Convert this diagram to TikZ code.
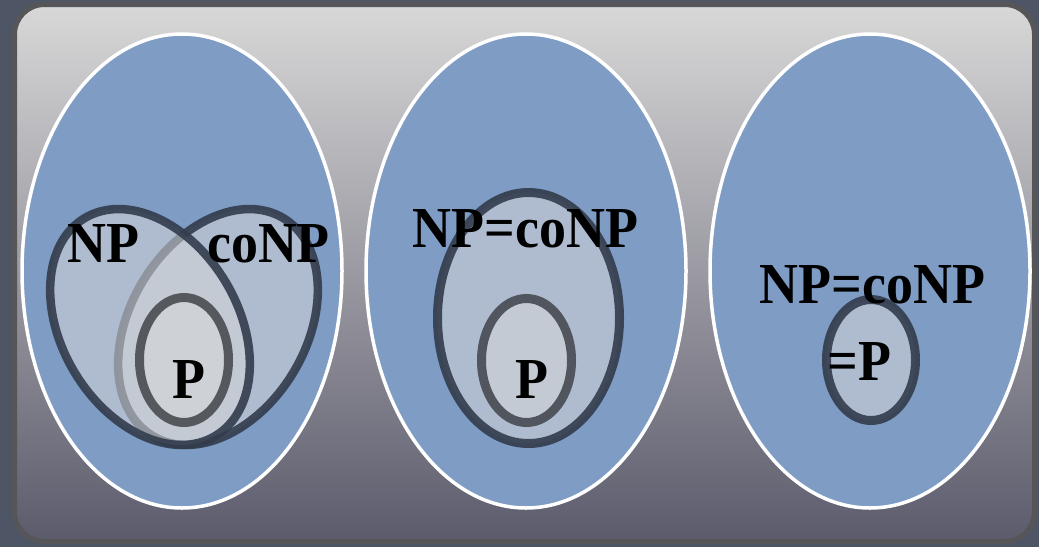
\documentclass[tikz,border=0pt]{standalone}
\usepackage{fontspec}
\setmainfont{Liberation Serif}
\definecolor{bgcol}{RGB}{78,86,102}
\definecolor{rimcol}{RGB}{86,86,88}
\definecolor{paneltop}{RGB}{216,216,216}
\definecolor{panelmid}{RGB}{166,166,171}
\definecolor{panelbot}{RGB}{92,91,108}
\definecolor{bluefill}{RGB}{127,156,196}
\definecolor{setfill}{RGB}{215,215,217}
\definecolor{setline}{RGB}{50,60,76}
\definecolor{pline}{RGB}{85,88,93}
\definecolor{plinetwo}{RGB}{80,85,94}
\newcommand{\lbltxt}[1]{\scalebox{0.93}[1]{\fontsize{58}{60}\selectfont\bfseries #1}}
\begin{document}
\begin{tikzpicture}[x=1pt,y=-1pt,
  world/.style={fill=bluefill, draw=white, line width=3.5pt},
  setring/.style={fill=setfill, fill opacity=0.55, draw=setline, draw opacity=0.9, line width=8.5pt},
  pring/.style={fill=setfill, fill opacity=0.55, draw=pline, line width=9pt},
  txt/.style={anchor=base, inner sep=0pt, text=black}]
\fill[bgcol] (0,0) rectangle (1039,547);
\useasboundingbox (0,0) rectangle (1039,547);
% panel
\path[draw=rimcol, line width=5pt, rounded corners=30pt,
      top color=paneltop, middle color=panelmid, bottom color=panelbot]
  (14.5,4.5) rectangle (1034.5,541.5);
% ---- panel 1
\path[world] (182,271) ellipse [x radius=160pt, y radius=237pt];
\coordinate (npc) at (150,327);
\coordinate (conpc) at (218,327);
\path[setring, rotate around={59:(conpc)}] (conpc) ellipse [x radius=127pt, y radius=88pt];
\path[setring, rotate around={-59:(npc)}] (npc) ellipse [x radius=127pt, y radius=88pt];
\path[pring] (184,360) ellipse [x radius=44.5pt, y radius=62.5pt];
\node[txt] (np1) at (103.5,262) {\lbltxt{NP}};
\node[txt] (conp1) at (268.5,262) {\lbltxt{coNP}};
\node[txt] (p1) at (188.5,398) {\lbltxt{P}};
% ---- panel 2
\path[world] (526,271) ellipse [x radius=160pt, y radius=237pt];
\path[setring, line width=9pt] (528.5,318) ellipse [x radius=91pt, y radius=125.5pt];
\path[pring, draw=plinetwo] (526.5,360.5) ellipse [x radius=45pt, y radius=62pt];
\node[txt] (npeq2) at (525.5,247) {\lbltxt{NP=coNP}};
\node[txt] (p2) at (531.5,398) {\lbltxt{P}};
% ---- panel 3
\path[world] (870,271) ellipse [x radius=160pt, y radius=237pt];
\path[setring, line width=9pt] (871,360) ellipse [x radius=44.5pt, y radius=60.5pt];
\node[txt] (npeq3) at (872.5,303) {\lbltxt{NP=coNP}};
\node[txt] (p3) at (859.5,380) {\lbltxt{=P}};
\end{tikzpicture}
\end{document}
